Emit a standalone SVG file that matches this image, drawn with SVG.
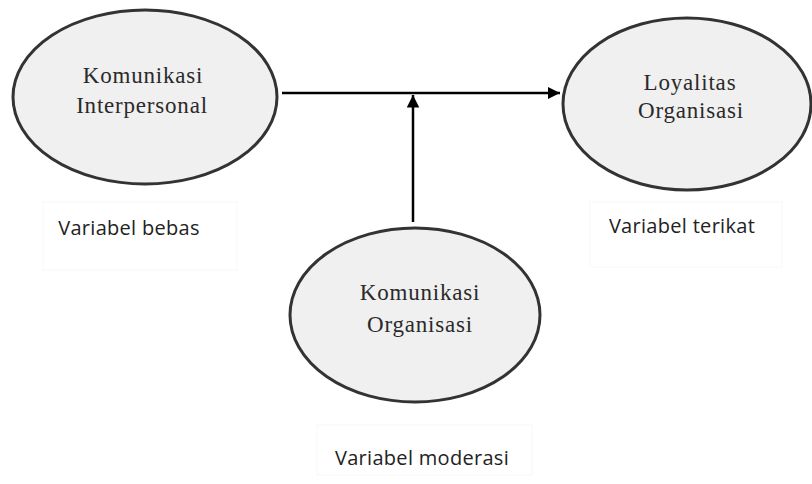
<svg xmlns="http://www.w3.org/2000/svg" width="812" height="484" viewBox="0 0 812 484">
<style>
.node ellipse{fill:#f0f0f0;stroke:#333;stroke-width:3}
.nt{font-family:"Liberation Serif","Times New Roman",serif;font-size:23px;fill:#2a2a2a;text-anchor:middle;letter-spacing:0.8px}
.lb{font-family:"Open Sans","Noto Sans","Liberation Sans",sans-serif;font-size:20px;fill:#222;text-anchor:middle;letter-spacing:0.3px}
.box{fill:#fff;stroke:#f7f7f7;stroke-width:1}
.conn{stroke:#000;stroke-width:2.5;fill:none}
</style>
<defs>
<marker id="ah" viewBox="0 0 10 10" refX="10" refY="5" markerWidth="5" markerHeight="5" orient="auto" markerUnits="strokeWidth">
<path d="M0,0 L10,5 L0,10 z" fill="#000"/>
</marker>
</defs>
<g id="label-bebas">
<rect class="box" x="43" y="202" width="194" height="68"/>
<text class="lb" x="129" y="235">Variabel bebas</text>
</g>
<g id="label-terikat">
<rect class="box" x="590" y="202" width="192" height="65"/>
<text class="lb" x="682" y="233">Variabel terikat</text>
</g>
<g id="label-moderasi">
<rect class="box" x="317" y="425" width="215" height="50"/>
<text class="lb" x="422" y="465">Variabel moderasi</text>
</g>
<g id="connectors">
<line class="conn" x1="282" y1="93" x2="560" y2="93" marker-end="url(#ah)"/>
<line class="conn" x1="413" y1="222" x2="413" y2="95" marker-end="url(#ah)"/>
</g>
<g id="node-komunikasi-interpersonal" class="node">
<ellipse cx="145" cy="97" rx="132" ry="87"/>
<text class="nt" x="143" y="83">Komunikasi</text>
<text class="nt" x="142" y="113">Interpersonal</text>
</g>
<g id="node-loyalitas-organisasi" class="node">
<ellipse cx="687" cy="104" rx="124" ry="86"/>
<text class="nt" x="690" y="90">Loyalitas</text>
<text class="nt" x="691" y="118">Organisasi</text>
</g>
<g id="node-komunikasi-organisasi" class="node">
<ellipse cx="415" cy="315" rx="125" ry="87"/>
<text class="nt" x="420" y="300">Komunikasi</text>
<text class="nt" x="420" y="332">Organisasi</text>
</g>
</svg>
